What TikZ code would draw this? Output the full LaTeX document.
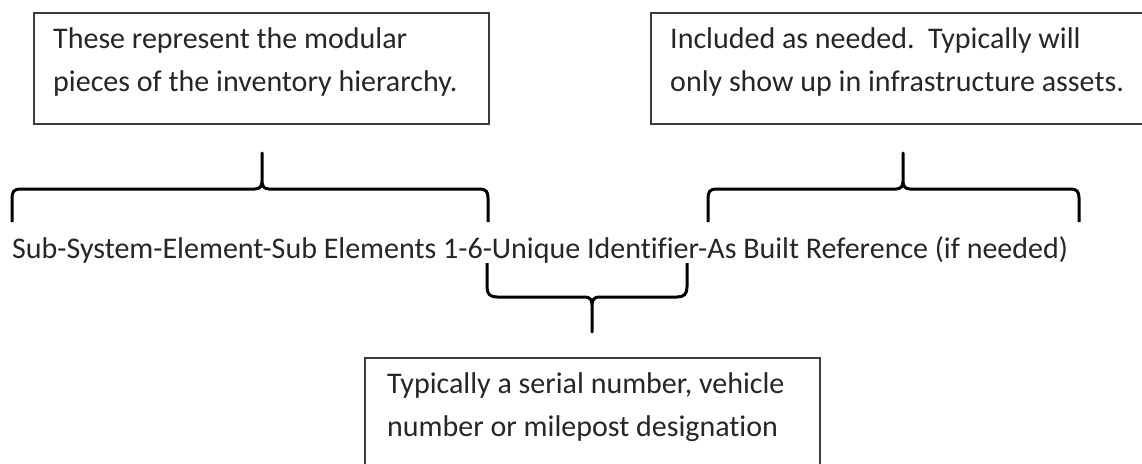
\documentclass[tikz,border=0pt]{standalone}
\usepackage{fontspec}
\setmainfont[Ligatures=CommonOff]{Carlito}
\begin{document}
\begin{tikzpicture}[x=1pt,y=-1pt,
  box/.style={draw=boxgray, line width=1.6pt, inner sep=0pt},
  boxtext/.style={anchor=north west, align=left, inner sep=0pt, text=txtgray,
    font=\fontsize{30}{43}\selectfont},
  brace/.style={draw=black, line width=3pt, line join=round, line cap=butt}]
\definecolor{boxgray}{HTML}{3C3C3C}
\definecolor{txtgray}{HTML}{262626}
\clip (0,0) rectangle (1142,463);
\useasboundingbox (0,0) rectangle (1142,463);
% boxes
\node[box, anchor=north west, minimum width=455pt, minimum height=111pt] (b1) at (33,12) {};
\node[boxtext] (b1t) at (53,27) {These represent the modular\\pieces of the inventory hierarchy.};
\node[box, anchor=north west, minimum width=520pt, minimum height=111pt] (b2) at (650,12) {};
\node[boxtext] (b2t) at (670,27) {Included as needed.\ \ Typically will\\only show up in infrastructure assets.};
\node[box, anchor=north west, minimum width=455pt, minimum height=140pt] (b3) at (364,357) {};
\node[boxtext] (b3t) at (387,372) {Typically a serial number, vehicle\\number or milepost designation};
% main line
\node[anchor=base west, inner sep=0pt, text=txtgray, font=\fontsize{30}{36}\selectfont] (chain) at (12,258)
  {Sub-System-Element-Sub Elements 1-6-Unique Identifier-As Built Reference (if needed)};
% braces
\draw[brace] (12,222) -- (12,198) .. controls (12,192) and (14,189) .. (20,189) -- (255,189)
  .. controls (260,189) and (262,186) .. (262,181) -- (262,153) -- (262,181)
  .. controls (262,186) and (264,189) .. (269,189) -- (480,189)
  .. controls (486,189) and (488,192) .. (488,198) -- (488,222);
\draw[brace] (708,222) -- (708,198) .. controls (708,192) and (710,189) .. (716,189) -- (896,189)
  .. controls (901,189) and (903,186) .. (903,181) -- (903,153) -- (903,181)
  .. controls (903,186) and (905,189) .. (910,189) -- (1071,189)
  .. controls (1077,189) and (1079,192) .. (1079,198) -- (1079,222);
\draw[brace] (487,263) -- (487,287) .. controls (487,294) and (490,297) .. (497,297) -- (585,297)
  .. controls (590,297) and (592,300) .. (592,305) -- (592,332) -- (592,305)
  .. controls (592,300) and (594,297) .. (599,297) -- (677,297)
  .. controls (684,297) and (687,294) .. (687,287) -- (687,263);
\end{tikzpicture}
\end{document}
